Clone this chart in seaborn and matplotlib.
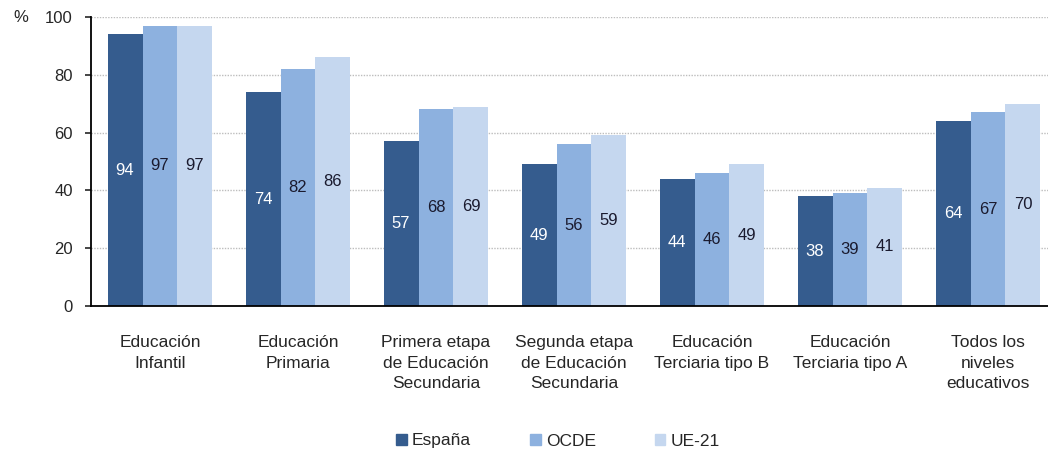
import pandas as pd
import numpy as np
import matplotlib
matplotlib.use("Agg")
import matplotlib.pyplot as plt
import seaborn as sns

categories = [
    "Educación\nInfantil",
    "Educación\nPrimaria",
    "Primera etapa\nde Educación\nSecundaria",
    "Segunda etapa\nde Educación\nSecundaria",
    "Educación\nTerciaria tipo B",
    "Educación\nTerciaria tipo A",
    "Todos los\nniveles\neducativos",
]
series = ["España", "OCDE", "UE-21"]
espana = [94, 74, 57, 49, 44, 38, 64]
ocde = [97, 82, 68, 56, 46, 39, 67]
ue21 = [97, 86, 69, 59, 49, 41, 70]
y_ticks = [0, 20, 40, 60, 80, 100]

colors = ["#355C8E", "#8DB1DF", "#C5D7EF"]

df = pd.DataFrame({
    "categoria": categories * 3,
    "serie": [s for s in series for _ in categories],
    "valor": espana + ocde + ue21,
})

sns.set_style("white")
plt.rcParams["font.family"] = ["Liberation Sans", "DejaVu Sans"]

fig = plt.figure(figsize=(10.48, 4.5), dpi=100)
ax = fig.add_axes([91 / 1048, 1 - 306 / 450, 966 / 1048, (306 - 17) / 450])

sns.barplot(data=df, x="categoria", y="valor", hue="serie", palette=colors,
            width=0.76, gap=0, saturation=1, linewidth=0, ax=ax, legend=False)

# etiquetas de valor en el centro de cada barra
for cont, col in zip(ax.containers, ["white", "#1a1a2e", "#1a1a2e"]):
    ax.bar_label(cont, label_type="center", color=col, fontsize=12)

ax.set_xlim(-0.5, 6.5)
ax.set_ylim(0, 100)
ax.set_yticks(y_ticks)
ax.set_xlabel("")
ax.set_ylabel("")
ax.yaxis.grid(True, linestyle=(0, (1, 1)), color="#bdbdbd", linewidth=1)
ax.set_axisbelow(True)

for s in ["top", "right"]:
    ax.spines[s].set_visible(False)
for s in ["left", "bottom"]:
    ax.spines[s].set_color("black")
    ax.spines[s].set_linewidth(1.3)

ax.tick_params(axis="y", left=True, length=4, width=1.2, labelsize=12, pad=9)
ax.set_xticks(np.arange(len(categories)))
ax.set_xticklabels(categories, fontsize=12.5, linespacing=1.45, va="top")
ax.tick_params(axis="x", which="major", length=0, pad=21)
ax.set_xticks(np.arange(len(categories) + 1) - 0.5, minor=True)
ax.tick_params(axis="x", which="minor", length=5, width=1.2, direction="out")

fig.text(13 / 1048, 1 - 18 / 450, "%", fontsize=12, va="center", ha="left")

handles = [plt.Rectangle((0, 0), 1, 1, color=c) for c in colors]
fig.legend(handles, series, loc="center", bbox_to_anchor=(558 / 1048, 1 - 441 / 450),
           ncol=3, frameon=False, fontsize=12.5, handlelength=0.6, handleheight=0.6,
           handletextpad=0.3, columnspacing=3.4)

fig.savefig("out.png", dpi=100, facecolor="white")
